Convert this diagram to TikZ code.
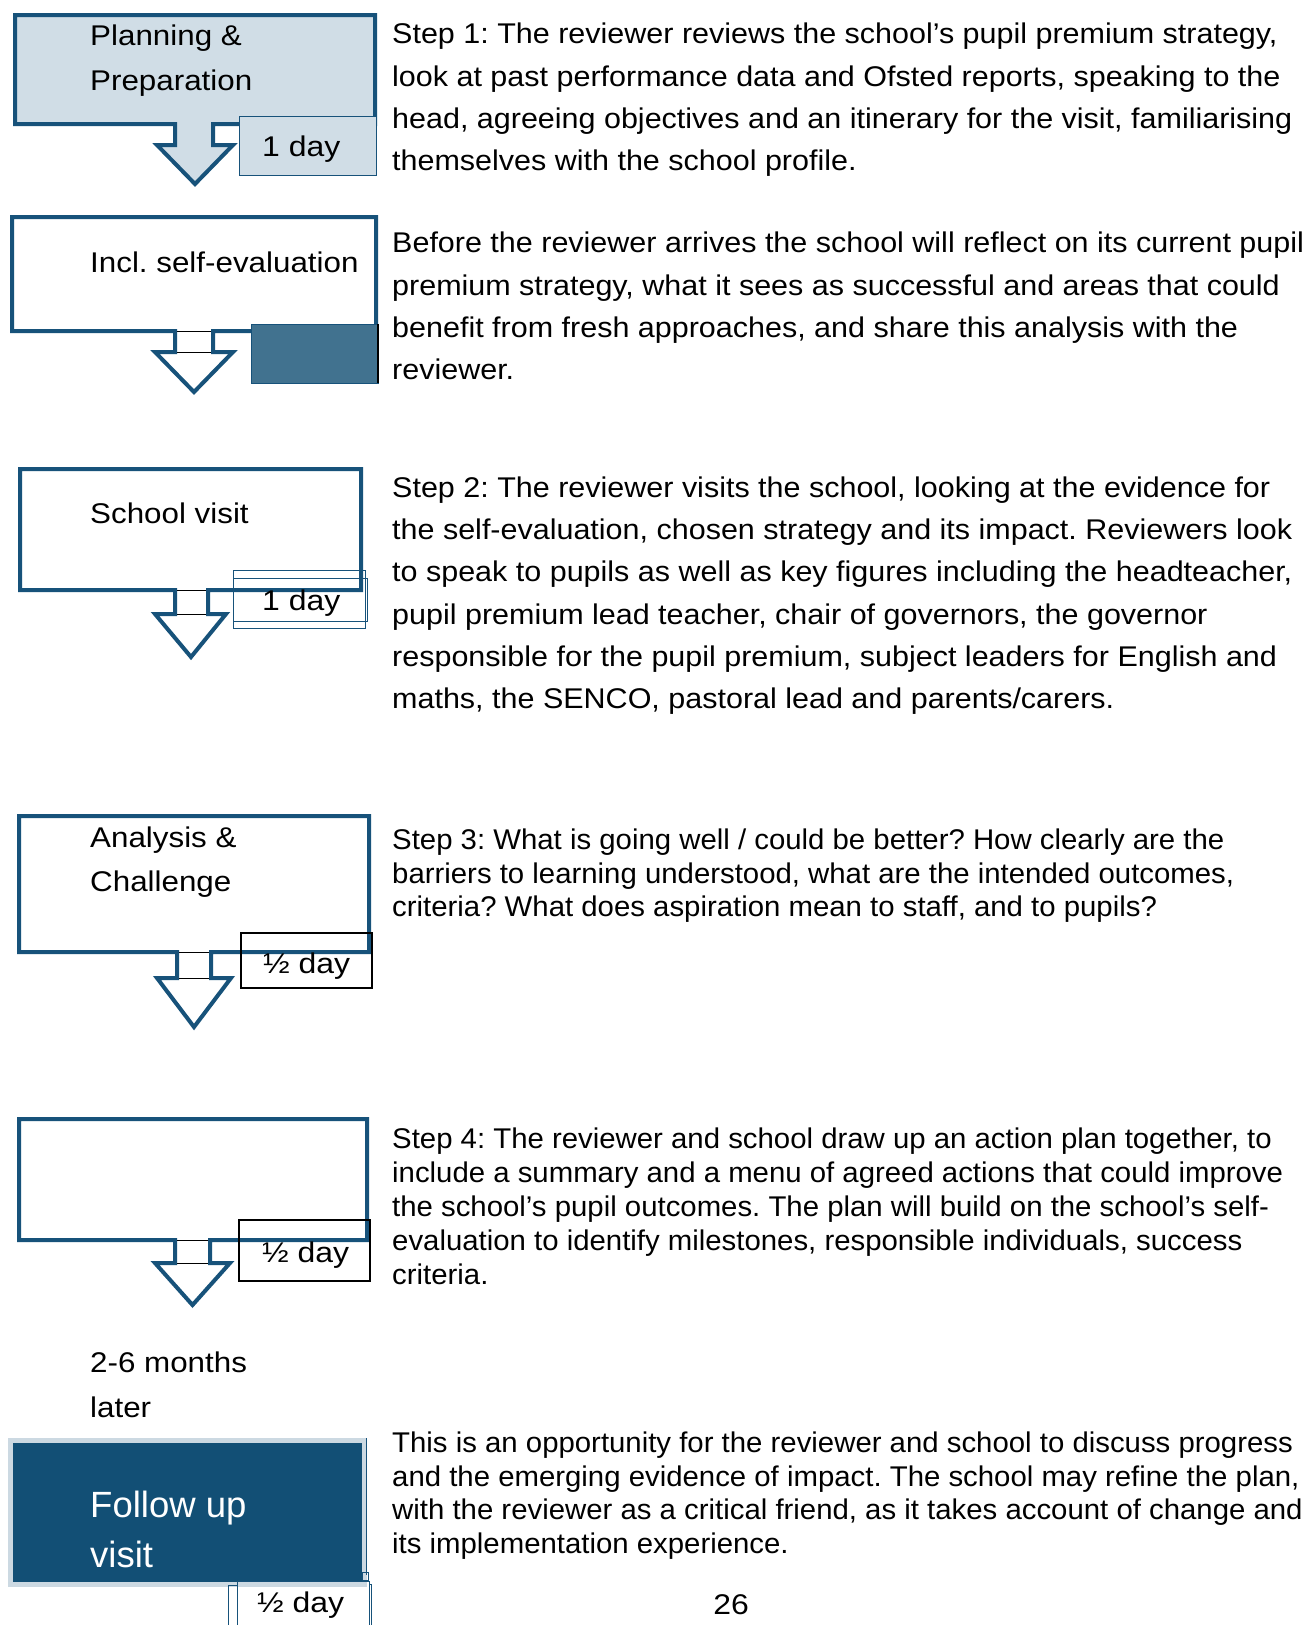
\documentclass[tikz,border=0pt]{standalone}
\usepackage{fontspec}
\setmainfont{Liberation Sans}
\newfontfamily\titlefont[FakeStretch=1.10]{Liberation Sans}
\newfontfamily\stepfont[FakeStretch=1.07]{Liberation Sans}
\newfontfamily\tightfont[FakeStretch=1.03]{Liberation Sans}
\newfontfamily\dayfont[FakeStretch=1.12]{Liberation Sans}
\frenchspacing
\definecolor{navy}{HTML}{17527A}
\definecolor{paleblue}{HTML}{D0DDE6}
\definecolor{midblue}{HTML}{41728F}
\definecolor{followblue}{HTML}{124F75}
\definecolor{followedge}{HTML}{CCD9E2}

\begin{document}
\begin{tikzpicture}[x=1pt,y=-1pt,
  		callout/.style={draw=navy,line width=4pt},
  		stemline/.style={draw=black,line width=1pt},
  		daybox/.style={draw=navy,line width=1pt},
  		dayline/.style={draw=black,line width=1.2pt},
  		steptitle/.style={anchor=north west,inner sep=0pt,align=left,font=\titlefont\fontsize{28.5}{44.5}\selectfont},
  		steptext/.style={anchor=north west,inner sep=0pt,align=left,font=\stepfont\fontsize{28.5}{42.3}\selectfont},
  		tighttext/.style={steptext,font=\tightfont\fontsize{28.5}{33.8}\selectfont},
  		daytext/.style={anchor=base west,inner sep=0pt,font=\dayfont\fontsize{28.5}{34}\selectfont}]
    		\fill[white] (0,0) rectangle (1303,1625);
    		\useasboundingbox (0,0) rectangle (1303,1625);
    		% Planning & Preparation
      		\draw[callout,fill=paleblue] (175,124) -- (15,124) -- (15,15) -- (375,15) -- (375,124) -- (213,124)
      			-- (213,145) -- (233,145) -- (195,184) -- (157,145) -- (175,145) -- cycle;
      		\draw[daybox,fill=paleblue] (239,116) rectangle (376,175);
      		\node[steptitle] (planning) at (90,25) {Planning \&\\Preparation};
      		\node[daytext] (planningday) at (262,156) {1 day};
    		% Self-evaluation
      		\draw[callout] (175,331) -- (12,331) -- (12,217) -- (376,217) -- (376,331) -- (213,331)
      			-- (213,352) -- (233,352) -- (194,392) -- (155,352) -- (175,352) -- cycle;
      		\draw[stemline] (177,331) -- (211,331) (177,352) -- (211,352);
      		\draw[draw=navy,line width=1pt,fill=midblue] (251,324) rectangle (378,383);
      		\draw[black,line width=1.5pt] (378,324) -- (378,383);
      		\node[steptitle] (selfeval) at (90,252) {Incl. self-evaluation};
    		% School visit
      		\draw[callout] (175,590) -- (20,590) -- (20,469) -- (361,469) -- (361,590) -- (208,590)
      			-- (208,614) -- (226,614) -- (191,657) -- (155,614) -- (175,614) -- cycle;
      		\draw[stemline] (177,590) -- (206,590) (177,614) -- (206,614);
      		\draw[daybox] (233,570) rectangle (365,628);
      		\draw[daybox] (233,578) rectangle (367,621);
      		\node[steptitle] (visit) at (90,503) {School visit};
      		\node[daytext] (visitday) at (262,610) {1 day};
    		% Analysis & Challenge
      		\draw[callout] (177,952) -- (19,952) -- (19,816) -- (369,816) -- (369,952) -- (211,952)
      			-- (211,978) -- (231,978) -- (194,1027) -- (157,978) -- (177,978) -- cycle;
      		\draw[stemline] (179,952) -- (209,952) (179,978) -- (209,978);
      		\draw[dayline] (241,933) rectangle (372,988);
      		\node[steptitle] (analysis) at (90,826.5) {Analysis \&\\Challenge};
      		\node[daytext] (analysisday) at (263,973) {½ day};
    		% Action plan
      		\draw[callout] (175,1240) -- (19,1240) -- (19,1119) -- (367,1119) -- (367,1240) -- (210,1240)
      			-- (210,1263) -- (230,1263) -- (192.5,1305) -- (155,1263) -- (175,1263) -- cycle;
      		\draw[stemline] (177,1240) -- (208,1240) (177,1263) -- (208,1263);
      		\draw[dayline] (239,1220) rectangle (370,1281);
      		\node[daytext] (planday) at (262,1262) {½ day};
    		% Follow up visit
      		\node[steptitle] (later) at (90,1352) {2-6 months\\later};
      		\draw[draw=followedge,line width=5pt,fill=followblue] (10,1440.5) rectangle (364.5,1584.5);
      		\draw[daybox] (366,1438) -- (366,1575);
      		\draw[daybox] (362,1572) rectangle (368,1580);
      		\draw[daybox] (237,1581) rectangle (369,1632);
      		\draw[daybox] (228,1632) -- (228,1585) -- (237,1585) (369,1584) -- (371,1584) -- (371,1632);
      		\node[steptitle,text=white,font=\fontsize{36.5}{50}\selectfont] (follow) at (90,1490.5) {Follow up\\visit};
      		\node[daytext] (followday) at (257,1612) {½ day};
    		% Descriptions
      		\node[steptext] (stepone) at (392,23) {Step 1: The reviewer reviews the school’s pupil premium strategy,\\
      			look at past performance data and Ofsted reports, speaking to the\\
      			head, agreeing objectives and an itinerary for the visit, familiarising\\
      			themselves with the school profile.};
      		\node[steptext] (before) at (392,232) {Before the reviewer arrives the school will reflect on its current pupil\\
      			premium strategy, what it sees as successful and areas that could\\
      			benefit from fresh approaches, and share this analysis with the\\
      			reviewer.};
      		\node[steptext] (steptwo) at (392,476.5) {Step 2: The reviewer visits the school, looking at the evidence for\\
      			the self-evaluation, chosen strategy and its impact. Reviewers look\\
      			to speak to pupils as well as key figures including the headteacher,\\
      			pupil premium lead teacher, chair of governors, the governor\\
      			responsible for the pupil premium, subject leaders for English and\\
      			maths, the SENCO, pastoral lead and parents/carers.};
      		\node[tighttext] (stepthree) at (392,828.5) {Step 3: What is going well / could be better? How clearly are the\\
      			barriers to learning understood, what are the intended outcomes,\\
      			criteria? What does aspiration mean to staff, and to pupils?};
      		\node[tighttext] (stepfour) at (392,1128) {Step 4: The reviewer and school draw up an action plan together, to\\
      			include a summary and a menu of agreed actions that could improve\\
      			the school’s pupil outcomes. The plan will build on the school’s self-\\
      			evaluation to identify milestones, responsible individuals, success\\
      			criteria.};
      		\node[tighttext] (followtext) at (392,1431.5) {This is an opportunity for the reviewer and school to discuss progress\\
      			and the emerging evidence of impact. The school may refine the plan,\\
      			with the reviewer as a critical friend, as it takes account of change and\\
      			its implementation experience.};
      		\node[daytext,anchor=base] (pagenum) at (731,1614) {26};
	\end{tikzpicture}
\end{document}
